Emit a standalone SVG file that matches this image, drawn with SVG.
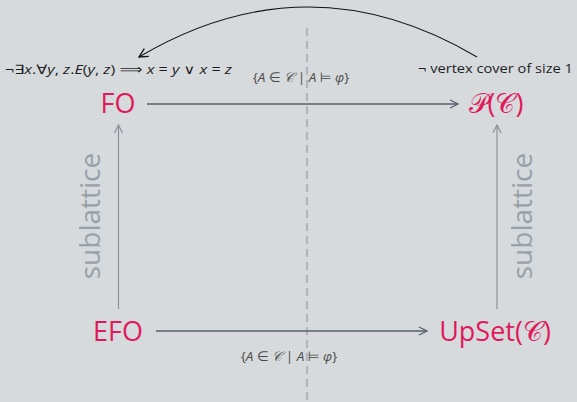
<svg xmlns="http://www.w3.org/2000/svg" width="577" height="402" viewBox="0 0 577 402">
<defs>
<style>
.node{font-family:"Open Sans","Noto Sans","DejaVu Sans",sans-serif;font-size:27px;fill:#e0195a}
.small{font-family:"Open Sans","DejaVu Sans",sans-serif;font-size:13px;fill:#1e1e1e}
.set{font-family:"Open Sans","DejaVu Sans",sans-serif;font-size:13.5px;fill:#4a4a4a}
.sub{font-family:"Open Sans","Noto Sans",sans-serif;font-size:28px;fill:#98a1a9}
.it{font-style:italic}
.h{stroke:#56616b;stroke-width:1.3;fill:none}
.v{stroke:#8a939b;stroke-width:1.2;fill:none}
</style>
<marker id="ah" viewBox="0 0 10 10" refX="9" refY="5" markerWidth="10" markerHeight="10" markerUnits="userSpaceOnUse" orient="auto">
<path d="M1,1 L9,5 L1,9" fill="none" stroke="#56616b" stroke-width="1.3"/>
</marker>
<marker id="av" viewBox="0 0 10 10" refX="9" refY="5" markerWidth="10" markerHeight="10" markerUnits="userSpaceOnUse" orient="auto">
<path d="M1,1 L9,5 L1,9" fill="none" stroke="#8a939b" stroke-width="1.2"/>
</marker>
<marker id="ak" viewBox="0 0 10 10" refX="9" refY="5" markerWidth="11" markerHeight="11" markerUnits="userSpaceOnUse" orient="auto">
<path d="M1,1 L9,5 L1,9" fill="none" stroke="#111" stroke-width="1.2"/>
</marker>
</defs>
<rect width="577" height="402" fill="#d6dadd"/>
<line x1="307" y1="28" x2="307" y2="402" stroke="#b3b7bb" stroke-width="2.2" stroke-dasharray="8,5"/>
<g id="connectors">
<line class="h" x1="147" y1="104" x2="458" y2="104" marker-end="url(#ah)"/>
<line class="h" x1="156" y1="331" x2="427" y2="331" marker-end="url(#ah)"/>
<line class="v" x1="118.5" y1="309" x2="118.5" y2="125" marker-end="url(#av)"/>
<line class="v" x1="497" y1="309" x2="497" y2="125" marker-end="url(#av)"/>
<path d="M477,57 Q308,-43 139,57" fill="none" stroke="#111" stroke-width="1.1" marker-end="url(#ak)"/>
<text class="set" x="301" y="82" text-anchor="middle">{<tspan class="it">A</tspan> ∈ <tspan class="it">𝒞</tspan> | <tspan class="it">A</tspan> ⊨ <tspan class="it">φ</tspan>}</text>
<text class="set" x="289" y="361" text-anchor="middle">{<tspan class="it">A</tspan> ∈ <tspan class="it">𝒞</tspan> | <tspan class="it">A</tspan> ⊨ <tspan class="it">φ</tspan>}</text>
<text class="sub" transform="translate(100,216) rotate(-90)" text-anchor="middle">sublattice</text>
<text class="sub" transform="translate(532,216) rotate(-90)" text-anchor="middle">sublattice</text>
</g>
<g id="FO">
<text class="node" x="118" y="113" text-anchor="middle">FO</text>
<text class="small" x="5" y="74" textLength="227" lengthAdjust="spacingAndGlyphs">¬∃<tspan class="it">x</tspan>.∀<tspan class="it">y</tspan>, <tspan class="it">z</tspan>.<tspan class="it">E</tspan>(<tspan class="it">y</tspan>, <tspan class="it">z</tspan>) ⟹ <tspan class="it">x</tspan> = <tspan class="it">y</tspan> ∨ <tspan class="it">x</tspan> = <tspan class="it">z</tspan></text>
</g>
<g id="PC">
<text class="node" x="496" y="113" text-anchor="middle">𝒫(𝒞)</text>
<text class="small" x="418" y="73" textLength="155" lengthAdjust="spacingAndGlyphs">¬ vertex cover of size 1</text>
</g>
<g id="EFO">
<text class="node" x="118" y="341" text-anchor="middle">EFO</text>
</g>
<g id="UpSet">
<text class="node" x="495" y="341" text-anchor="middle">UpSet(𝒞)</text>
</g>
</svg>
